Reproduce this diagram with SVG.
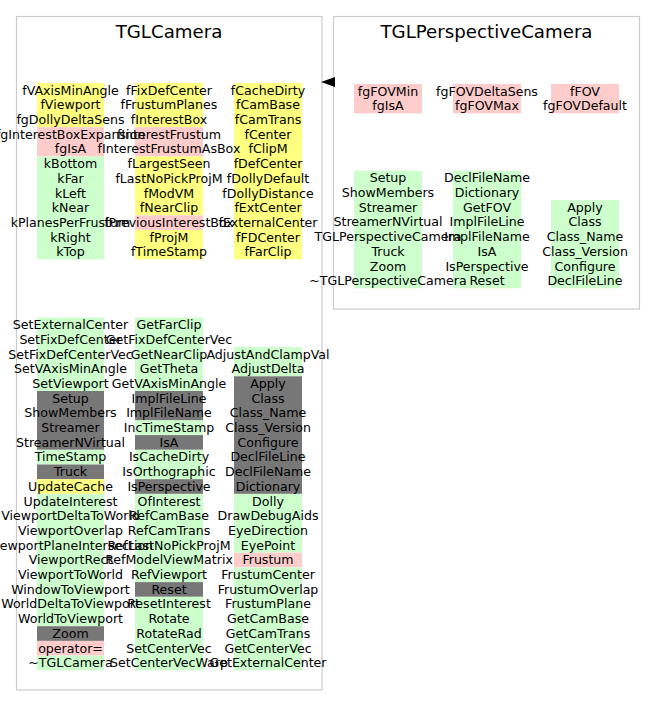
<svg xmlns="http://www.w3.org/2000/svg" width="656" height="717" viewBox="0 0 656 717">
<style>
.frame{fill:#fff;stroke:#cccccc;stroke-width:1.2}
.title{font-family:"DejaVu Sans","Liberation Sans",sans-serif;font-size:18.2px;fill:#000;text-anchor:middle}
text.m{font-family:"DejaVu Sans","Liberation Sans",sans-serif;font-size:12.6px;fill:#000;text-anchor:middle}
.y{fill:#ffff80}
.p{fill:#ffcccc}
.g{fill:#ccffcc}
.d{fill:#777777}
.arrowhead{fill:#000;stroke:none}
</style>
<rect width="656" height="717" fill="#fff"/>

<g id="TGLCamera">
<rect class="frame" x="16.5" y="16.5" width="305.5" height="673.5"/>
<text class="title" x="169" y="38">TGLCamera</text>
<rect class="y" x="37" y="83" width="67" height="44.1"/>
<rect class="p" x="37" y="127.1" width="67" height="29.4"/>
<rect class="g" x="37" y="156.5" width="67" height="102.9"/>
<rect class="y" x="135" y="83" width="68" height="44.1"/>
<rect class="p" x="135" y="127.1" width="68" height="29.4"/>
<rect class="y" x="135" y="156.5" width="68" height="58.8"/>
<rect class="p" x="135" y="215.3" width="68" height="14.7"/>
<rect class="y" x="135" y="230" width="68" height="29.4"/>
<rect class="y" x="234" y="83" width="68" height="176.4"/>
<text class="m" x="70.5" y="94.65">fVAxisMinAngle</text>
<text class="m" x="70.5" y="109.35">fViewport</text>
<text class="m" x="70.5" y="124.05">fgDollyDeltaSens</text>
<text class="m" x="70.5" y="138.75">fgInterestBoxExpansion</text>
<text class="m" x="70.5" y="153.45">fgIsA</text>
<text class="m" x="70.5" y="168.15">kBottom</text>
<text class="m" x="70.5" y="182.85">kFar</text>
<text class="m" x="70.5" y="197.55">kLeft</text>
<text class="m" x="70.5" y="212.25">kNear</text>
<text class="m" x="70.5" y="226.95">kPlanesPerFrustum</text>
<text class="m" x="70.5" y="241.65">kRight</text>
<text class="m" x="70.5" y="256.35">kTop</text>
<text class="m" x="169" y="94.65">fFixDefCenter</text>
<text class="m" x="169" y="109.35">fFrustumPlanes</text>
<text class="m" x="169" y="124.05">fInterestBox</text>
<text class="m" x="169" y="138.75">fInterestFrustum</text>
<text class="m" x="169" y="153.45">fInterestFrustumAsBox</text>
<text class="m" x="169" y="168.15">fLargestSeen</text>
<text class="m" x="169" y="182.85">fLastNoPickProjM</text>
<text class="m" x="169" y="197.55">fModVM</text>
<text class="m" x="169" y="212.25">fNearClip</text>
<text class="m" x="169" y="226.95">fPreviousInterestBox</text>
<text class="m" x="169" y="241.65">fProjM</text>
<text class="m" x="169" y="256.35">fTimeStamp</text>
<text class="m" x="268" y="94.65">fCacheDirty</text>
<text class="m" x="268" y="109.35">fCamBase</text>
<text class="m" x="268" y="124.05">fCamTrans</text>
<text class="m" x="268" y="138.75">fCenter</text>
<text class="m" x="268" y="153.45">fClipM</text>
<text class="m" x="268" y="168.15">fDefCenter</text>
<text class="m" x="268" y="182.85">fDollyDefault</text>
<text class="m" x="268" y="197.55">fDollyDistance</text>
<text class="m" x="268" y="212.25">fExtCenter</text>
<text class="m" x="268" y="226.95">fExternalCenter</text>
<text class="m" x="268" y="241.65">fFDCenter</text>
<text class="m" x="268" y="256.35">fFarClip</text>
<rect class="g" x="37" y="317.5" width="67" height="73.5"/>
<rect class="d" x="37" y="391" width="67" height="58.8"/>
<rect class="g" x="37" y="449.8" width="67" height="14.7"/>
<rect class="d" x="37" y="464.5" width="67" height="14.7"/>
<rect class="y" x="37" y="479.2" width="67" height="14.7"/>
<rect class="g" x="37" y="493.9" width="67" height="132.3"/>
<rect class="d" x="37" y="626.2" width="67" height="14.7"/>
<rect class="p" x="37" y="640.9" width="67" height="14.7"/>
<rect class="g" x="37" y="655.6" width="67" height="14.7"/>
<rect class="g" x="135" y="317.5" width="68" height="73.5"/>
<rect class="d" x="135" y="391" width="68" height="29.4"/>
<rect class="g" x="135" y="420.4" width="68" height="14.7"/>
<rect class="d" x="135" y="435.1" width="68" height="14.7"/>
<rect class="g" x="135" y="449.8" width="68" height="29.4"/>
<rect class="d" x="135" y="479.2" width="68" height="14.7"/>
<rect class="g" x="135" y="493.9" width="68" height="88.2"/>
<rect class="d" x="135" y="582.1" width="68" height="14.7"/>
<rect class="g" x="135" y="596.8" width="68" height="73.5"/>
<rect class="g" x="234" y="346.9" width="68" height="29.4"/>
<rect class="d" x="234" y="376.3" width="68" height="117.6"/>
<rect class="g" x="234" y="493.9" width="68" height="58.8"/>
<rect class="p" x="234" y="552.7" width="68" height="14.7"/>
<rect class="g" x="234" y="567.4" width="68" height="102.9"/>
<text class="m" x="70.5" y="329.15">SetExternalCenter</text>
<text class="m" x="70.5" y="343.85">SetFixDefCenter</text>
<text class="m" x="70.5" y="358.55">SetFixDefCenterVec</text>
<text class="m" x="70.5" y="373.25">SetVAxisMinAngle</text>
<text class="m" x="70.5" y="387.95">SetViewport</text>
<text class="m" x="70.5" y="402.65">Setup</text>
<text class="m" x="70.5" y="417.35">ShowMembers</text>
<text class="m" x="70.5" y="432.05">Streamer</text>
<text class="m" x="70.5" y="446.75">StreamerNVirtual</text>
<text class="m" x="70.5" y="461.45">TimeStamp</text>
<text class="m" x="70.5" y="476.15">Truck</text>
<text class="m" x="70.5" y="490.85">UpdateCache</text>
<text class="m" x="70.5" y="505.55">UpdateInterest</text>
<text class="m" x="70.5" y="520.25">ViewportDeltaToWorld</text>
<text class="m" x="70.5" y="534.95">ViewportOverlap</text>
<text class="m" x="70.5" y="549.65">ViewportPlaneIntersection</text>
<text class="m" x="70.5" y="564.35">ViewportRect</text>
<text class="m" x="70.5" y="579.05">ViewportToWorld</text>
<text class="m" x="70.5" y="593.75">WindowToViewport</text>
<text class="m" x="70.5" y="608.45">WorldDeltaToViewport</text>
<text class="m" x="70.5" y="623.15">WorldToViewport</text>
<text class="m" x="70.5" y="637.85">Zoom</text>
<text class="m" x="70.5" y="652.55">operator=</text>
<text class="m" x="70.5" y="667.25">~TGLCamera</text>
<text class="m" x="169" y="329.15">GetFarClip</text>
<text class="m" x="169" y="343.85">GetFixDefCenterVec</text>
<text class="m" x="169" y="358.55">GetNearClip</text>
<text class="m" x="169" y="373.25">GetTheta</text>
<text class="m" x="169" y="387.95">GetVAxisMinAngle</text>
<text class="m" x="169" y="402.65">ImplFileLine</text>
<text class="m" x="169" y="417.35">ImplFileName</text>
<text class="m" x="169" y="432.05">IncTimeStamp</text>
<text class="m" x="169" y="446.75">IsA</text>
<text class="m" x="169" y="461.45">IsCacheDirty</text>
<text class="m" x="169" y="476.15">IsOrthographic</text>
<text class="m" x="169" y="490.85">IsPerspective</text>
<text class="m" x="169" y="505.55">OfInterest</text>
<text class="m" x="169" y="520.25">RefCamBase</text>
<text class="m" x="169" y="534.95">RefCamTrans</text>
<text class="m" x="169" y="549.65">RefLastNoPickProjM</text>
<text class="m" x="169" y="564.35">RefModelViewMatrix</text>
<text class="m" x="169" y="579.05">RefViewport</text>
<text class="m" x="169" y="593.75">Reset</text>
<text class="m" x="169" y="608.45">ResetInterest</text>
<text class="m" x="169" y="623.15">Rotate</text>
<text class="m" x="169" y="637.85">RotateRad</text>
<text class="m" x="169" y="652.55">SetCenterVec</text>
<text class="m" x="169" y="667.25">SetCenterVecWarp</text>
<text class="m" x="268" y="358.55">AdjustAndClampVal</text>
<text class="m" x="268" y="373.25">AdjustDelta</text>
<text class="m" x="268" y="387.95">Apply</text>
<text class="m" x="268" y="402.65">Class</text>
<text class="m" x="268" y="417.35">Class_Name</text>
<text class="m" x="268" y="432.05">Class_Version</text>
<text class="m" x="268" y="446.75">Configure</text>
<text class="m" x="268" y="461.45">DeclFileLine</text>
<text class="m" x="268" y="476.15">DeclFileName</text>
<text class="m" x="268" y="490.85">Dictionary</text>
<text class="m" x="268" y="505.55">Dolly</text>
<text class="m" x="268" y="520.25">DrawDebugAids</text>
<text class="m" x="268" y="534.95">EyeDirection</text>
<text class="m" x="268" y="549.65">EyePoint</text>
<text class="m" x="268" y="564.35">Frustum</text>
<text class="m" x="268" y="579.05">FrustumCenter</text>
<text class="m" x="268" y="593.75">FrustumOverlap</text>
<text class="m" x="268" y="608.45">FrustumPlane</text>
<text class="m" x="268" y="623.15">GetCamBase</text>
<text class="m" x="268" y="637.85">GetCamTrans</text>
<text class="m" x="268" y="652.55">GetCenterVec</text>
<text class="m" x="268" y="667.25">GetExternalCenter</text>
</g>

<g id="TGLPerspectiveCamera">
<rect class="frame" x="333.5" y="16.5" width="306" height="292.5"/>
<text class="title" x="486.5" y="38">TGLPerspectiveCamera</text>
<rect class="p" x="354" y="84" width="68" height="29.4"/>
<rect class="p" x="453" y="84" width="68" height="29.4"/>
<rect class="p" x="551" y="84" width="68" height="29.4"/>
<text class="m" x="388" y="95.65">fgFOVMin</text>
<text class="m" x="388" y="110.35">fgIsA</text>
<text class="m" x="487" y="95.65">fgFOVDeltaSens</text>
<text class="m" x="487" y="110.35">fgFOVMax</text>
<text class="m" x="585" y="95.65">fFOV</text>
<text class="m" x="585" y="110.35">fgFOVDefault</text>
<rect class="g" x="354" y="170.7" width="68" height="117.6"/>
<rect class="g" x="453" y="170.7" width="68" height="117.6"/>
<rect class="g" x="551" y="200.1" width="68" height="88.2"/>
<text class="m" x="388" y="182.35">Setup</text>
<text class="m" x="388" y="197.05">ShowMembers</text>
<text class="m" x="388" y="211.75">Streamer</text>
<text class="m" x="388" y="226.45">StreamerNVirtual</text>
<text class="m" x="388" y="241.15">TGLPerspectiveCamera</text>
<text class="m" x="388" y="255.85">Truck</text>
<text class="m" x="388" y="270.55">Zoom</text>
<text class="m" x="388" y="285.25">~TGLPerspectiveCamera</text>
<text class="m" x="487" y="182.35">DeclFileName</text>
<text class="m" x="487" y="197.05">Dictionary</text>
<text class="m" x="487" y="211.75">GetFOV</text>
<text class="m" x="487" y="226.45">ImplFileLine</text>
<text class="m" x="487" y="241.15">ImplFileName</text>
<text class="m" x="487" y="255.85">IsA</text>
<text class="m" x="487" y="270.55">IsPerspective</text>
<text class="m" x="487" y="285.25">Reset</text>
<text class="m" x="585" y="211.75">Apply</text>
<text class="m" x="585" y="226.45">Class</text>
<text class="m" x="585" y="241.15">Class_Name</text>
<text class="m" x="585" y="255.85">Class_Version</text>
<text class="m" x="585" y="270.55">Configure</text>
<text class="m" x="585" y="285.25">DeclFileLine</text>
</g>

<g id="connectors">
<path class="arrowhead" d="M335,77 L321,82 L335,87 Z"/>
</g>
</svg>
